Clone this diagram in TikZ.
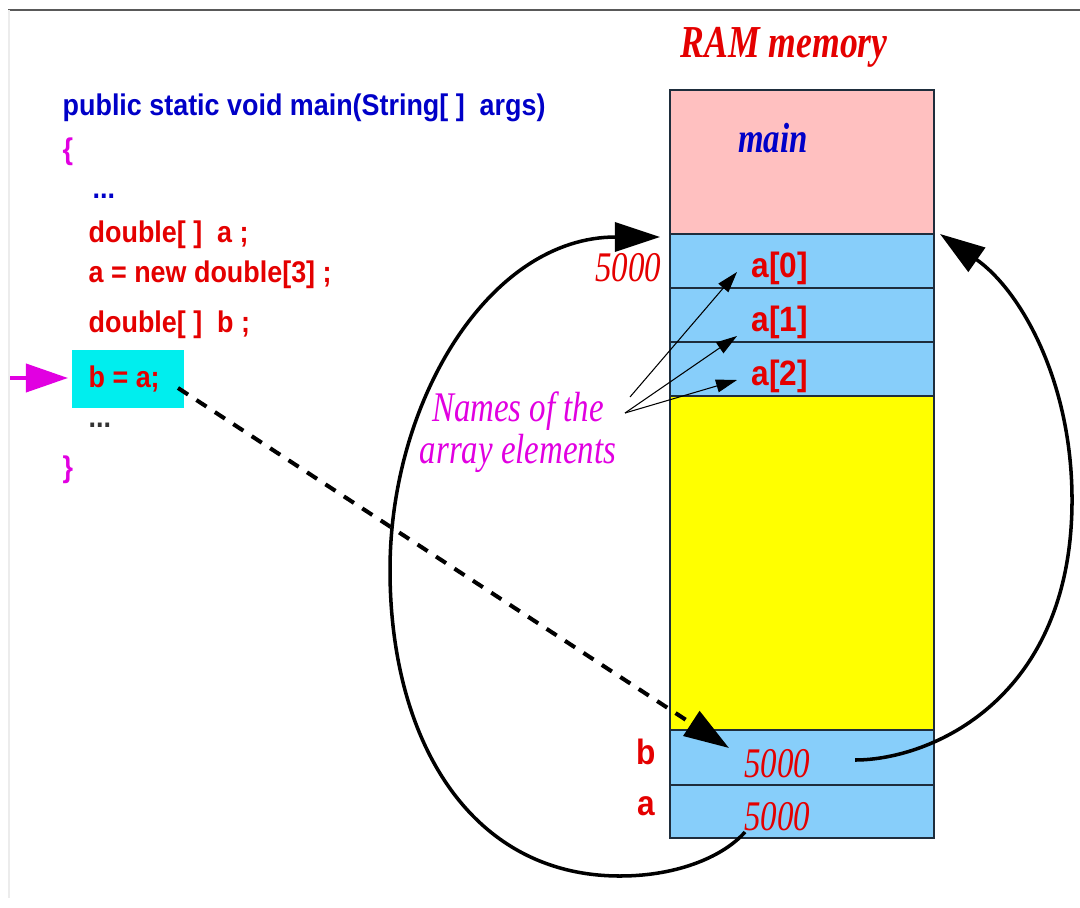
\documentclass[tikz,border=0pt]{standalone}
\usepackage{fontspec}
\usetikzlibrary{arrows.meta}
\newfontfamily\codefont[FakeStretch=0.9]{Liberation Sans}
\newfontfamily\notefont[FakeStretch=0.78]{Liberation Serif}
\definecolor{memred}{RGB}{228,0,0}
\definecolor{codeblue}{RGB}{0,0,200}
\definecolor{notemag}{RGB}{225,0,225}
\definecolor{mainpink}{RGB}{255,192,192}
\definecolor{cellblue}{RGB}{135,206,250}
\definecolor{freeyellow}{RGB}{255,255,0}
\definecolor{hlcyan}{RGB}{0,238,238}
\definecolor{celledge}{RGB}{30,45,60}
\tikzset{
  code/.style={font=\codefont\bfseries\fontsize{8.5}{10}\selectfont, anchor=base west, inner sep=0pt, text=memred},
  cellname/.style={font=\codefont\bfseries\fontsize{10}{12}\selectfont, text=memred, inner sep=0pt},
  addr/.style={font=\notefont\itshape\fontsize{12}{14}\selectfont, text=memred, inner sep=0pt},
  cell/.style={draw=celledge, line width=0.4pt},
  bigtip/.style={-{Triangle[length=4.5mm,width=2.9mm]}, line width=1pt},
  smalltip/.style={-{Triangle[length=2.1mm,width=1.3mm]}, line width=0.3pt}
}
\begin{document}
\begin{tikzpicture}[x=0.01cm,y=-0.01cm]
\useasboundingbox (0,0) rectangle (1080,907);
\draw[gray!70!black, line width=0.6pt] (8,10) -- (1080,10);
\draw[gray!15, line width=0.4pt] (9,10) -- (9,898);

% RAM column
\node[font=\notefont\bfseries\itshape\fontsize{13}{15}\selectfont, text=memred] (ramtitle) at (784,47) {RAM memory};
\draw[cell, fill=mainpink] (670,90) rectangle (934,234);
\draw[cell, fill=cellblue] (670,234) rectangle (934,288);
\draw[cell, fill=cellblue] (670,288) rectangle (934,342);
\draw[cell, fill=cellblue] (670,342) rectangle (934,396);
\draw[cell, fill=freeyellow] (670,396) rectangle (934,730);
\draw[cell, fill=cellblue] (670,730) rectangle (934,785);
\draw[cell, fill=cellblue] (670,785) rectangle (934,838);
\node[font=\notefont\bfseries\itshape\fontsize{12}{14}\selectfont, text=codeblue] (mainname) at (773,138) {main};

\node[cellname, anchor=west] (a0) at (751,268) {a[0]};
\node[cellname, anchor=west] (a1) at (751,322) {a[1]};
\node[cellname, anchor=west] (a2) at (751,376) {a[2]};
\node[addr] (addr) at (628,268) {5000};
\node[cellname] (bname) at (646,752) {b};
\node[cellname] (aname) at (646,806) {a};
\node[addr] (bval) at (777,764) {5000};
\node[addr] (aval) at (777,817) {5000};

% program text
\node[code, text=codeblue] (header) at (62,116) {public static void main(String[ ]\ \ args)};
\node[code, text=notemag] (openbr) at (62,160) {\{};
\node[code, text=codeblue] (dots1) at (92,199) {...};
\node[code] (decla) at (88,243) {double[ ]\ \ a ;};
\node[code] (newa) at (88,283) {a = new double[3] ;};
\node[code] (declb) at (88,333) {double[ ]\ \ b ;};
\fill[hlcyan] (72,350) rectangle (184,408);
\node[code] (assign) at (88,387) {b = a;};
\node[code, text=black!80] (dots2) at (88,427) {...};
\node[code, text=notemag] (closebr) at (62,477) {\}};
\coordinate (pstart) at (10,378);
\draw[notemag, line width=1.1pt, -{Triangle[length=4.2mm,width=2.8mm]}] (pstart) -- (68,378);

% names of the elements
\node[font=\notefont\itshape\fontsize{12}{14}\selectfont, text=notemag, align=center, inner sep=0pt] (names) at (518,432) {Names of the\\[-2pt]array elements};
\coordinate (nm0) at (630,397);
\coordinate (nm1) at (625,413);
\draw[smalltip] (nm0) -- (737,272);
\draw[smalltip] (nm1) -- (737,336);
\draw[smalltip] (nm1) -- (737,380);

% copying the reference
\coordinate (bstart) at (178,388);
\coordinate (btip) at (729,748);
\draw[bigtip, line width=1.15pt, dash pattern=on 1.2mm off 1mm] (bstart) -- (btip);

\coordinate (aout) at (745,832);
\coordinate (arrtop) at (660,237);
\draw[bigtip] (aout) .. controls (725,855) and (680,876) .. (620,876)
  .. controls (470,876) and (390,740) .. (390,570)
  .. controls (390,400) and (490,237) .. (arrtop);

\coordinate (bout) at (855,760);
\coordinate (arrtop2) at (940,234);
\draw[bigtip] (bout) .. controls (930,760) and (1072,700) .. (1072,500)
  .. controls (1072,380) and (1020,290) .. (arrtop2);
\end{tikzpicture}
\end{document}
